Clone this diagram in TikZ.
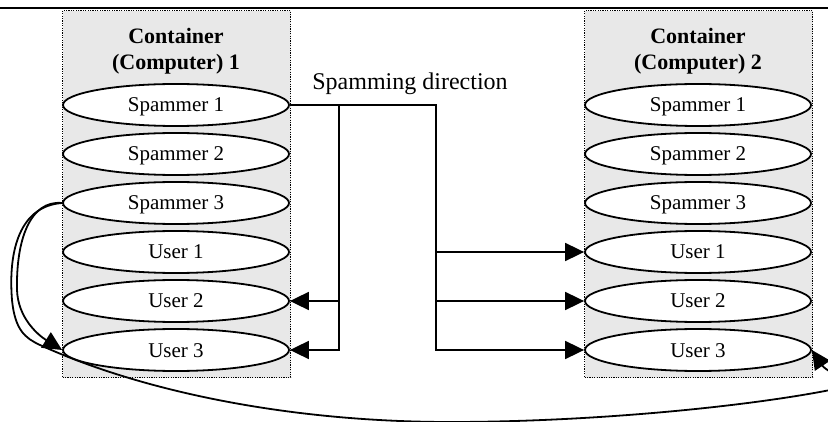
\documentclass[tikz,border=0pt]{standalone}
\usepackage{fontspec}
\setmainfont{Liberation Serif}
\usetikzlibrary{arrows.meta,shapes.geometric}
\definecolor{cfill}{RGB}{232,232,232}
\begin{document}
\begin{tikzpicture}[x=1pt,y=-1pt,
  container/.style={draw=black, fill=cfill, line width=1.3pt, dash pattern=on 1.2pt off 1.2pt},
  title/.style={align=center, inner sep=0pt, font=\bfseries\fontsize{22}{26}\selectfont},
  oval/.style={ellipse, draw=black, fill=white, line width=1.8pt, minimum width=226pt, minimum height=42pt, inner sep=0pt, font=\fontsize{21}{25}\selectfont, text height=14pt, text depth=0pt},
  wire/.style={draw=black, line width=1.8pt},
  arr/.style={wire, -{Triangle[length=19pt,width=18pt]}},
  lbl/.style={inner sep=0pt, anchor=base, font=\fontsize{24}{28}\selectfont}
]
\useasboundingbox (0,0) rectangle (828,422);
\draw[line width=1.5pt] (0,8) -- (828,8);
% containers
\node[container, minimum width=228pt, minimum height=367pt, inner sep=0pt, anchor=north west] (c1) at (62,10) {};
\node[container, minimum width=228pt, minimum height=367pt, inner sep=0pt, anchor=north west] (c2) at (584,10) {};
\node[title] (t1) at (176,51) {Container\\(Computer) 1};
\node[title] (t2) at (698,51) {Container\\(Computer) 2};
% left ovals
\node[oval] (ls1) at (176,105) {Spammer 1};
\node[oval] (ls2) at (176,154) {Spammer 2};
\node[oval] (ls3) at (176,203) {Spammer 3};
\node[oval] (lu1) at (176,252) {User 1};
\node[oval] (lu2) at (176,301) {User 2};
\node[oval] (lu3) at (176,350) {User 3};
% right ovals
\node[oval] (rs1) at (698,105) {Spammer 1};
\node[oval] (rs2) at (698,154) {Spammer 2};
\node[oval] (rs3) at (698,203) {Spammer 3};
\node[oval] (ru1) at (698,252) {User 1};
\node[oval] (ru2) at (698,301) {User 2};
\node[oval] (ru3) at (698,350) {User 3};
% label
\node[lbl] (dir) at (410,90) {Spamming direction};
% connectors
\coordinate (j1) at (339,105);
\coordinate (j2) at (436,105);
\draw[arr] (ls1.east) -- (j2) -- (j2 |- ru3.west) -- (ru3.west);
\draw[arr] (j2 |- ru1.west) -- (ru1.west);
\draw[arr] (j2 |- ru2.west) -- (ru2.west);
\draw[arr] (j1) -- (j1 |- lu3.east) -- (lu3.east);
\draw[arr] (j1 |- lu2.east) -- (lu2.east);
% curves
\draw[arr] (ls3.west) .. controls (30,200) and (16,240) .. (17,290)
  .. controls (18,318) and (38,335) .. (lu3.west);
\draw[arr] (ls3.west) .. controls (20,206) and (8,250) .. (12,300)
  .. controls (15,330) and (25,338) .. (40,345)
  .. controls (150,395) and (300,422) .. (450,422)
  .. controls (600,422) and (760,405) .. (840,388)
  .. controls (862,383) and (828,374) .. (ru3.east);
\end{tikzpicture}
\end{document}
